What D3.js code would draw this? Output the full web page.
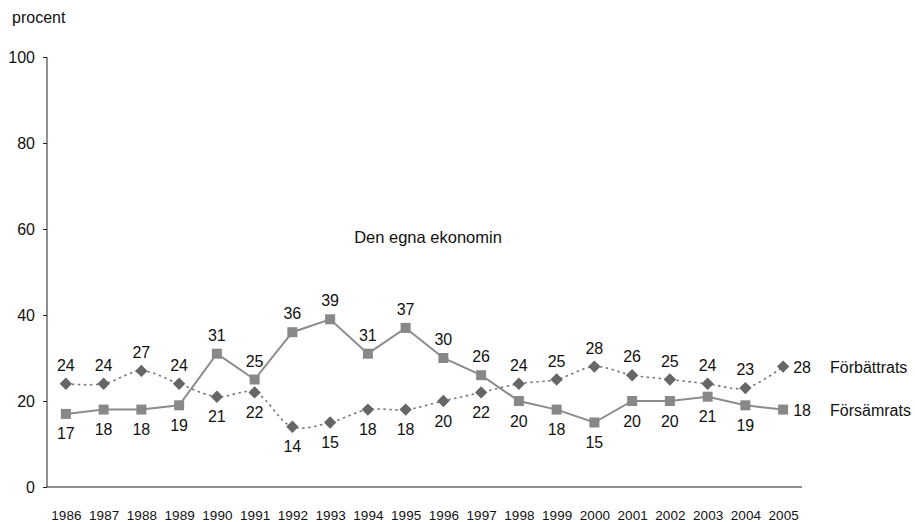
<!DOCTYPE html>
<html>
<head>
<meta charset="utf-8">
<script src="https://cdn.jsdelivr.net/npm/d3@7"></script>
<style>
  body { margin: 0; background: #fff; }
  svg { font-family: "Liberation Sans", Arial, sans-serif; }
</style>
</head>
<body>
<div id="chart"></div>
<script>
const years = [1986,1987,1988,1989,1990,1991,1992,1993,1994,1995,1996,1997,1998,1999,2000,2001,2002,2003,2004,2005];
const forbattrats = [24,24,27,24,21,22,14,15,18,18,20,22,24,25,28,26,25,24,23,28];
const forsamrats  = [17,18,18,19,31,25,36,39,31,37,30,26,20,18,15,20,20,21,19,18];
const yTicks = [0,20,40,60,80,100];

const w = 915, h = 522;

const svg = d3.select('#chart').append('svg')
  .attr('width', w)
  .attr('height', h);

const x = d3.scalePoint()
  .domain(years)
  .range([47, 802])
  .padding(0.5);

const y = d3.scaleLinear()
  .domain([0, 100])
  .range([487, 57]);

// y axis
const yAxis = d3.axisLeft(y).tickValues(yTicks).tickSize(4).tickPadding(8);
const gy = svg.append('g')
  .attr('transform', 'translate(47,0)')
  .call(yAxis);
gy.select('.domain').attr('stroke', '#222').attr('d', 'M0,57V487');
gy.selectAll('.tick line').attr('stroke', '#222');
gy.selectAll('.tick text').attr('font-size', 16).attr('fill', '#111');

// x axis (line only + labels)
const xAxis = d3.axisBottom(x).tickSize(0);
const gx = svg.append('g')
  .attr('transform', 'translate(0,487)')
  .call(xAxis);
gx.select('.domain').attr('stroke', '#222').attr('d', 'M47,0H802');
gx.selectAll('.tick text')
  .attr('y', 33).attr('dy', 0)
  .attr('font-size', 13.5).attr('fill', '#111');

svg.append('text')
  .text('procent')
  .attr('x', 12).attr('y', 23)
  .attr('font-size', 16).attr('fill', '#111');

svg.append('text')
  .text('Den egna ekonomin')
  .attr('x', 428).attr('y', 243)
  .attr('text-anchor', 'middle')
  .attr('font-size', 16.5).attr('fill', '#111');

// Försämrats - solid line, squares
const lineSolid = d3.line()
  .x((d, i) => x(years[i]))
  .y(d => y(d));

svg.append('path')
  .datum(forsamrats)
  .attr('d', lineSolid)
  .attr('fill', 'none')
  .attr('stroke', '#8c8c8c')
  .attr('stroke-width', 2);

// Förbättrats - dotted smooth line, diamonds
const lineDot = d3.line()
  .x((d, i) => x(years[i]))
  .y(d => y(d))
  .curve(d3.curveCatmullRom.alpha(0.5));

svg.append('path')
  .datum(forbattrats)
  .attr('d', lineDot)
  .attr('fill', 'none')
  .attr('stroke', '#777')
  .attr('stroke-width', 1.6)
  .attr('stroke-dasharray', '2.5,3.5');

svg.selectAll('rect.sq')
  .data(forsamrats)
  .enter()
  .append('rect')
  .attr('class', 'sq')
  .attr('x', (d, i) => x(years[i]) - 5)
  .attr('y', d => y(d) - 5)
  .attr('width', 10)
  .attr('height', 10)
  .attr('fill', '#888');

svg.selectAll('path.dia')
  .data(forbattrats)
  .enter()
  .append('path')
  .attr('class', 'dia')
  .attr('d', (d, i) => {
    const cx = x(years[i]), cy = y(d), r = 6.2;
    return `M${cx},${cy - r}L${cx + r},${cy}L${cx},${cy + r}L${cx - r},${cy}Z`;
  })
  .attr('fill', '#666');

// value labels
const last = years.length - 1;
function labelPos(v, other, i) {
  if (i === last) return { x: x(years[i]) + 10, y: y(v) + 6.5, anchor: 'start' };
  const above = v >= other;
  return { x: x(years[i]), y: above ? y(v) - 13 : y(v) + 25.5, anchor: 'middle' };
}

svg.selectAll('text.lf')
  .data(forbattrats)
  .enter()
  .append('text')
  .attr('class', 'lf')
  .each(function (d, i) {
    const p = labelPos(d, forsamrats[i], i);
    d3.select(this).attr('x', p.x).attr('y', p.y).attr('text-anchor', p.anchor);
  })
  .text(d => d)
  .attr('font-size', 16).attr('fill', '#111');

svg.selectAll('text.ls')
  .data(forsamrats)
  .enter()
  .append('text')
  .attr('class', 'ls')
  .each(function (d, i) {
    const p = labelPos(d, forbattrats[i], i);
    d3.select(this).attr('x', p.x).attr('y', p.y).attr('text-anchor', p.anchor);
  })
  .text(d => d)
  .attr('font-size', 16).attr('fill', '#111');

// series names
svg.append('text')
  .text('Förbättrats')
  .attr('x', 830).attr('y', y(forbattrats[last]) + 6.5)
  .attr('font-size', 16).attr('fill', '#111');

svg.append('text')
  .text('Försämrats')
  .attr('x', 830).attr('y', y(forsamrats[last]) + 6.5)
  .attr('font-size', 16).attr('fill', '#111');
</script>
</body>
</html>
